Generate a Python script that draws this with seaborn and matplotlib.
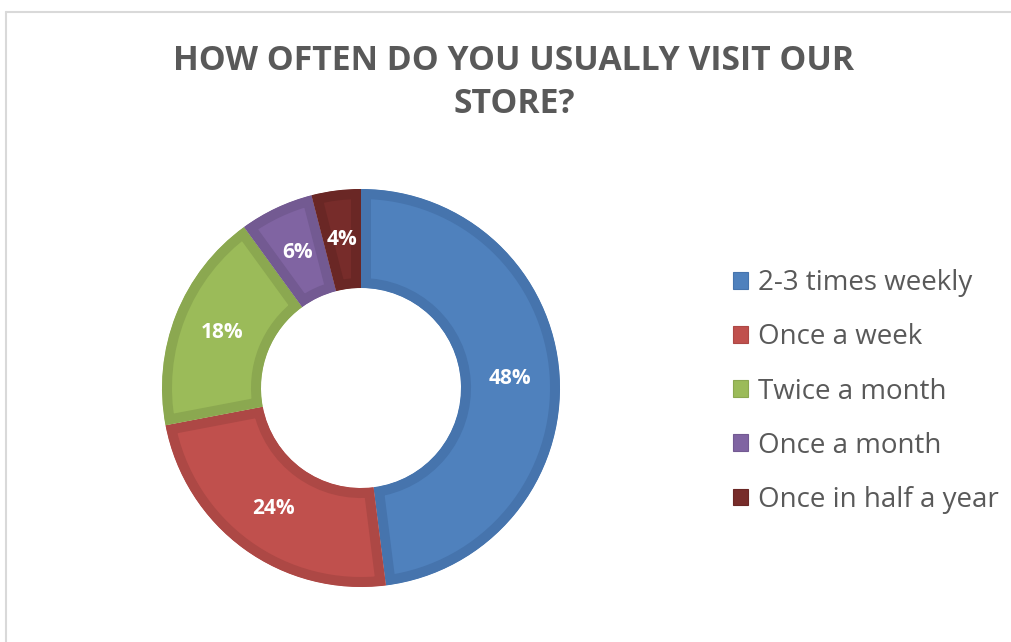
import matplotlib
matplotlib.use("Agg")
import math
import matplotlib.pyplot as plt
import matplotlib.patches as mpatches
from matplotlib.lines import Line2D
import seaborn as sns

# ---- data ----
categories = ["2-3 times weekly", "Once a week", "Twice a month", "Once a month", "Once in half a year"]
values = [48, 24, 18, 6, 4]
fill_colors = ["#4F81BD", "#C0504D", "#9BBB59", "#8064A2", "#772C2A"]
band_colors = ["#4674AD", "#AD4845", "#8BA850", "#735A92", "#6A2725"]
title_lines = ["HOW OFTEN DO YOU USUALLY VISIT OUR", "STORE?"]

sns.set_theme(style="white")
plt.rcParams['font.family'] = ['Open Sans', 'DejaVu Sans']

W, H = 1011, 642
fig = plt.figure(figsize=(W / 100, H / 100), dpi=100)
ax = fig.add_axes([0, 0, 1, 1])

cx, cy = 361, H - 388
R_out, R_in = 199, 100
band = 10

wedges, _ = ax.pie(values, colors=sns.color_palette(fill_colors), startangle=90, counterclock=False,
                   center=(cx, cy), radius=R_out,
                   wedgeprops=dict(width=R_out - R_in, linewidth=2 * band * 0.72, joinstyle='miter'),
                   frame=True)
ax.set_xlim(0, W)
ax.set_ylim(0, H)
ax.set_aspect('equal')
ax.axis('off')
for w, bc in zip(wedges, band_colors):
    w.set_edgecolor(bc)
    w.set_clip_path(w)
    w.set_clip_on(True)

# percentage labels
total = sum(values)
start = 90.0
r_mid = (R_out + R_in) / 2
for v in values:
    ang = start - 360.0 * v / total / 2
    start -= 360.0 * v / total
    x = cx + r_mid * math.cos(math.radians(ang))
    y = cy + r_mid * math.sin(math.radians(ang))
    ax.text(x, y, f"{v}%", color="white", fontsize=15, fontweight="bold",
            ha="center", va="center")

# title
fig.text(514 / W, 1 - 70 / H, title_lines[0], ha="center", va="baseline",
         fontsize=24.3, fontweight="bold", color="#595959")
fig.text(514 / W, 1 - 113 / H, title_lines[1], ha="center", va="baseline",
         fontsize=24.3, fontweight="bold", color="#595959")

# legend
handles = [mpatches.Patch(facecolor=f, edgecolor=b, linewidth=0.8) for f, b in zip(fill_colors, band_colors)]
leg = fig.legend(handles, categories, loc="center left", bbox_to_anchor=(733 / W, 1 - 391.5 / H),
                 frameon=False, fontsize=20, handlelength=0.55, handleheight=0.55,
                 handletextpad=0.36, labelspacing=0.94, borderpad=0, borderaxespad=0)
for t in leg.get_texts():
    t.set_color("#595959")

# chart frame (top and left edges visible)
fig.add_artist(Line2D([6 / W, 6 / W], [0, 1 - 12 / H], transform=fig.transFigure, color="#D9D9D9", lw=1.5))
fig.add_artist(Line2D([6 / W, 1], [1 - 12 / H, 1 - 12 / H], transform=fig.transFigure, color="#D9D9D9", lw=1.5))

fig.savefig("out.png", dpi=100, facecolor="white")
